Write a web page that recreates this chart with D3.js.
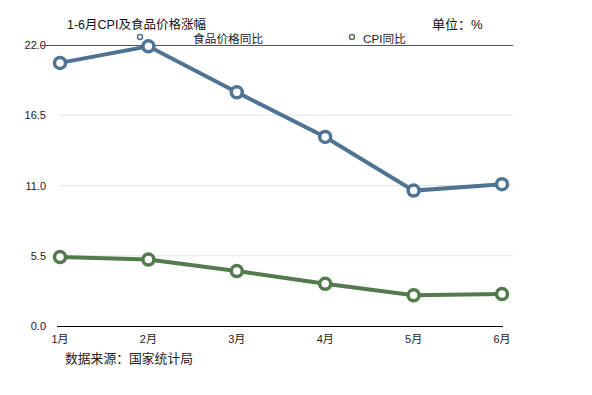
<html>
<head>
<meta charset="utf-8">
<script src="https://cdn.jsdelivr.net/npm/d3@7/dist/d3.min.js"></script>
<style>
  body { margin: 0; background: #fff; }
  text { font-family: "Liberation Sans", "Noto Sans CJK SC", sans-serif; }
</style>
</head>
<body>
<script>
var months = ["1月", "2月", "3月", "4月", "5月", "6月"];
var foodYoY = [20.6, 21.9, 18.3, 14.8, 10.6, 11.1];
var cpiYoY = [5.4, 5.2, 4.3, 3.3, 2.4, 2.5];
var yTicks = [0, 5.5, 11, 16.5, 22];

var W = 592, H = 395;
var svg = d3.select("body").append("svg").attr("width", W).attr("height", H);

var x = d3.scalePoint().domain(months).range([60, 502]);
var y = d3.scaleLinear().domain([0, 22]).range([326, 45]);

// grid
svg.selectAll("line.grid")
    .data(yTicks.filter(function(d) { return d > 0 && d < 22; }))
    .enter().append("line")
    .attr("x1", 60).attr("x2", 513)
    .attr("y1", function(d) { return y(d); })
    .attr("y2", function(d) { return y(d); })
    .attr("stroke", "#e4e4e4").attr("stroke-width", 1);

// y labels
svg.selectAll("text.ytick")
    .data(yTicks)
    .enter().append("text")
    .attr("x", 46)
    .attr("y", function(d) { return y(d) + 4; })
    .attr("text-anchor", "end")
    .attr("font-size", 11)
    .attr("fill", "#222")
    .text(function(d) { return d3.format(".1f")(d); });

// top line
svg.append("line")
    .attr("x1", 40).attr("x2", 513)
    .attr("y1", y(22) + 0.5).attr("y2", y(22) + 0.5)
    .attr("stroke", "#555").attr("stroke-width", 1);

// bottom axis
svg.append("line")
    .attr("x1", 57).attr("x2", 503)
    .attr("y1", y(0) + 0.5).attr("y2", y(0) + 0.5)
    .attr("stroke", "#000").attr("stroke-width", 1);

svg.selectAll("text.xtick")
    .data(months)
    .enter().append("text")
    .attr("x", function(d) { return x(d); })
    .attr("y", 343)
    .attr("text-anchor", "middle")
    .attr("font-size", 11)
    .attr("fill", "#222")
    .text(function(d) { return d; });

function drawSeries(vals, color) {
    var line = d3.line()
        .x(function(d, i) { return x(months[i]); })
        .y(function(d) { return y(d); });
    svg.append("path")
        .datum(vals)
        .attr("d", line)
        .attr("fill", "none")
        .attr("stroke", color)
        .attr("stroke-width", 4);
    svg.append("g").selectAll("circle")
        .data(vals)
        .enter().append("circle")
        .attr("cx", function(d, i) { return x(months[i]); })
        .attr("cy", function(d) { return y(d); })
        .attr("r", 5.5)
        .attr("fill", "#fff")
        .attr("stroke", color)
        .attr("stroke-width", 3.5);
}

var foodColor = "#4f7493", cpiColor = "#537a4d";
drawSeries(foodYoY, foodColor);
drawSeries(cpiYoY, cpiColor);

// title
svg.append("text").attr("x", 67).attr("y", 29)
    .attr("font-size", 12.5).attr("fill", "#111")
    .text("1-6月CPI及食品价格涨幅");
svg.append("text").attr("x", 432).attr("y", 29)
    .attr("font-size", 13).attr("fill", "#111")
    .text("单位：%");

// legend
var legend = [
    {name: "食品价格同比", color: foodColor, mx: 140, tx: 193},
    {name: "CPI同比", color: cpiColor, mx: 352, tx: 363}
];
legend.forEach(function(l) {
    svg.append("circle").attr("cx", l.mx).attr("cy", 37).attr("r", 2.5)
        .attr("fill", "#fff").attr("stroke", l.color).attr("stroke-width", 1.5);
    svg.append("text").attr("x", l.tx).attr("y", 43)
        .attr("font-size", 11.7).attr("fill", "#222").text(l.name);
});

// source
svg.append("text").attr("x", 65).attr("y", 363)
    .attr("font-size", 12.8).attr("fill", "#222")
    .text("数据来源：国家统计局");
</script>
</body>
</html>
